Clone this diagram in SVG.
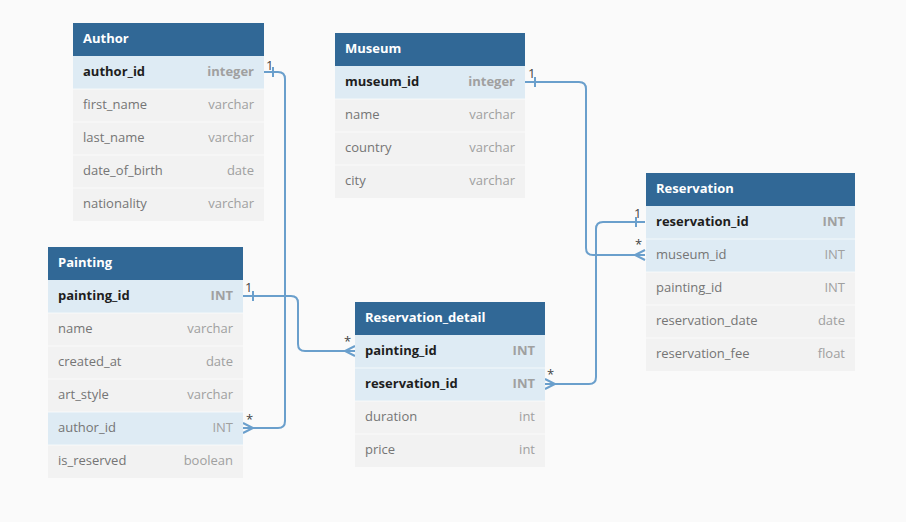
<svg xmlns="http://www.w3.org/2000/svg" width="906" height="522" viewBox="0 0 906 522">
<style>
.bg{fill:#fafafa}
.hd{fill:#316896}
.ht{font-family:"Open Sans","Liberation Sans",sans-serif;font-size:13px;font-weight:bold;fill:#ffffff}
.r{fill:#f2f2f2}
.rh{fill:#deebf4}
.sep{stroke:#ffffff;stroke-width:1;opacity:0.7}
.fn{font-family:"Open Sans","Liberation Sans",sans-serif;font-size:13px;fill:#757575}
.fk{font-family:"Open Sans","Liberation Sans",sans-serif;font-size:13px;font-weight:bold;fill:#1e1e1e}
.ty{font-family:"Open Sans","Liberation Sans",sans-serif;font-size:13px;fill:#a0a0a0;text-anchor:end}
.tk{font-family:"Open Sans","Liberation Sans",sans-serif;font-size:13px;font-weight:bold;fill:#a0a0a0;text-anchor:end}
.ln{fill:none;stroke:#6a9fcc;stroke-width:2}
.lb{font-family:"Open Sans","Liberation Sans",sans-serif;font-size:13px;fill:#444444}
</style>
<rect class="bg" x="0" y="0" width="906" height="522"/>

<g id="connectors">
  <path class="ln" d="M264,72 H278 Q285,72 285,79 V421 Q285,428 278,428 H243"/>
  <path class="ln" d="M273,67 V77"/>
  <path class="ln" d="M243,423 L253,428 L243,433"/>
  <text class="lb" x="266" y="70">1</text>
  <text class="lb" x="246" y="424">*</text>

  <path class="ln" d="M525,82 H579 Q586,82 586,89 V248 Q586,255 593,255 H645"/>
  <path class="ln" d="M535,77 V87"/>
  <path class="ln" d="M645,250 L635,255 L645,260"/>
  <text class="lb" x="528" y="78">1</text>
  <text class="lb" x="635" y="249">*</text>

  <path class="ln" d="M645,222 H603 Q596,222 596,229 V377 Q596,384 589,384 H545"/>
  <path class="ln" d="M636,217 V227"/>
  <path class="ln" d="M545,379 L555,384 L545,389"/>
  <text class="lb" x="634" y="218">1</text>
  <text class="lb" x="547" y="379">*</text>

  <path class="ln" d="M243,296 H291 Q298,296 298,303 V344 Q298,351 305,351 H355"/>
  <path class="ln" d="M253,291 V301"/>
  <path class="ln" d="M355,346 L345,351 L355,356"/>
  <text class="lb" x="245" y="292">1</text>
  <text class="lb" x="344" y="346">*</text>
</g>

<g id="Author">
  <rect class="hd" x="73" y="23" width="191" height="33"/>
  <text class="ht" x="83" y="43">Author</text>
  <rect class="rh" x="73" y="56" width="191" height="33"/>
  <rect class="r" x="73" y="89" width="191" height="132"/>
  <line class="sep" x1="73" y1="89" x2="264" y2="89"/>
  <line class="sep" x1="73" y1="122" x2="264" y2="122"/>
  <line class="sep" x1="73" y1="155" x2="264" y2="155"/>
  <line class="sep" x1="73" y1="188" x2="264" y2="188"/>
  <text class="fk" x="83" y="76">author_id</text><text class="tk" x="254" y="76">integer</text>
  <text class="fn" x="83" y="109">first_name</text><text class="ty" x="254" y="109">varchar</text>
  <text class="fn" x="83" y="142">last_name</text><text class="ty" x="254" y="142">varchar</text>
  <text class="fn" x="83" y="175">date_of_birth</text><text class="ty" x="254" y="175">date</text>
  <text class="fn" x="83" y="208">nationality</text><text class="ty" x="254" y="208">varchar</text>
</g>

<g id="Museum">
  <rect class="hd" x="335" y="33" width="190" height="33"/>
  <text class="ht" x="345" y="53">Museum</text>
  <rect class="rh" x="335" y="66" width="190" height="33"/>
  <rect class="r" x="335" y="99" width="190" height="99"/>
  <line class="sep" x1="335" y1="99" x2="525" y2="99"/>
  <line class="sep" x1="335" y1="132" x2="525" y2="132"/>
  <line class="sep" x1="335" y1="165" x2="525" y2="165"/>
  <text class="fk" x="345" y="86">museum_id</text><text class="tk" x="515" y="86">integer</text>
  <text class="fn" x="345" y="119">name</text><text class="ty" x="515" y="119">varchar</text>
  <text class="fn" x="345" y="152">country</text><text class="ty" x="515" y="152">varchar</text>
  <text class="fn" x="345" y="185">city</text><text class="ty" x="515" y="185">varchar</text>
</g>

<g id="Reservation">
  <rect class="hd" x="646" y="173" width="209" height="33"/>
  <text class="ht" x="656" y="193">Reservation</text>
  <rect class="rh" x="646" y="206" width="209" height="66"/>
  <rect class="r" x="646" y="272" width="209" height="99"/>
  <line class="sep" x1="646" y1="239" x2="855" y2="239"/>
  <line class="sep" x1="646" y1="272" x2="855" y2="272"/>
  <line class="sep" x1="646" y1="305" x2="855" y2="305"/>
  <line class="sep" x1="646" y1="338" x2="855" y2="338"/>
  <text class="fk" x="656" y="226">reservation_id</text><text class="tk" x="845" y="226">INT</text>
  <text class="fn" x="656" y="259">museum_id</text><text class="ty" x="845" y="259">INT</text>
  <text class="fn" x="656" y="292">painting_id</text><text class="ty" x="845" y="292">INT</text>
  <text class="fn" x="656" y="325">reservation_date</text><text class="ty" x="845" y="325">date</text>
  <text class="fn" x="656" y="358">reservation_fee</text><text class="ty" x="845" y="358">float</text>
</g>

<g id="Painting">
  <rect class="hd" x="48" y="247" width="195" height="33"/>
  <text class="ht" x="58" y="267">Painting</text>
  <rect class="rh" x="48" y="280" width="195" height="33"/>
  <rect class="r" x="48" y="313" width="195" height="99"/>
  <rect class="rh" x="48" y="412" width="195" height="33"/>
  <rect class="r" x="48" y="445" width="195" height="33"/>
  <line class="sep" x1="48" y1="313" x2="243" y2="313"/>
  <line class="sep" x1="48" y1="346" x2="243" y2="346"/>
  <line class="sep" x1="48" y1="379" x2="243" y2="379"/>
  <line class="sep" x1="48" y1="412" x2="243" y2="412"/>
  <line class="sep" x1="48" y1="445" x2="243" y2="445"/>
  <text class="fk" x="58" y="300">painting_id</text><text class="tk" x="233" y="300">INT</text>
  <text class="fn" x="58" y="333">name</text><text class="ty" x="233" y="333">varchar</text>
  <text class="fn" x="58" y="366">created_at</text><text class="ty" x="233" y="366">date</text>
  <text class="fn" x="58" y="399">art_style</text><text class="ty" x="233" y="399">varchar</text>
  <text class="fn" x="58" y="432">author_id</text><text class="ty" x="233" y="432">INT</text>
  <text class="fn" x="58" y="465">is_reserved</text><text class="ty" x="233" y="465">boolean</text>
</g>

<g id="Reservation_detail">
  <rect class="hd" x="355" y="302" width="190" height="33"/>
  <text class="ht" x="365" y="322">Reservation_detail</text>
  <rect class="rh" x="355" y="335" width="190" height="66"/>
  <rect class="r" x="355" y="401" width="190" height="66"/>
  <line class="sep" x1="355" y1="368" x2="545" y2="368"/>
  <line class="sep" x1="355" y1="401" x2="545" y2="401"/>
  <line class="sep" x1="355" y1="434" x2="545" y2="434"/>
  <text class="fk" x="365" y="355">painting_id</text><text class="tk" x="535" y="355">INT</text>
  <text class="fk" x="365" y="388">reservation_id</text><text class="tk" x="535" y="388">INT</text>
  <text class="fn" x="365" y="421">duration</text><text class="ty" x="535" y="421">int</text>
  <text class="fn" x="365" y="454">price</text><text class="ty" x="535" y="454">int</text>
</g>
</svg>
